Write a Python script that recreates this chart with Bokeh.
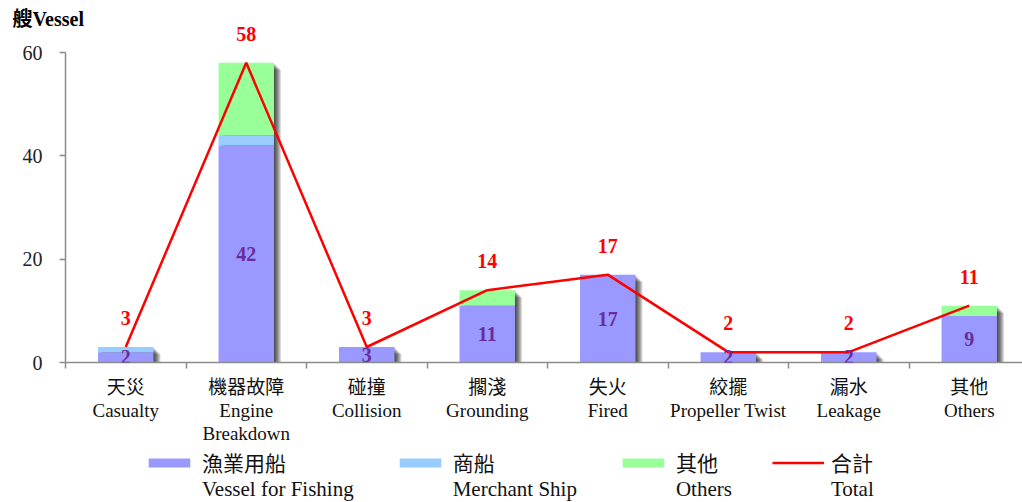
from bokeh.plotting import figure
from bokeh.layouts import column
from bokeh.models import (ColumnDataSource, Range1d, FixedTicker, LabelSet,
                          Legend, LegendItem)
from bokeh.embed import file_html
from bokeh.resources import INLINE

# Vessel accidents by cause
cat_zh = ["天災", "機器故障", "碰撞", "擱淺", "失火", "絞擺", "漏水", "其他"]
cat_en = ["Casualty", "Engine\nBreakdown", "Collision", "Grounding", "Fired",
          "Propeller Twist", "Leakage", "Others"]
fishing = [2, 42, 3, 11, 17, 2, 2, 9]
merchant = [1, 2, 0, 0, 0, 0, 0, 0]
others = [0, 14, 0, 3, 0, 0, 0, 2]
total = [3, 58, 3, 14, 17, 2, 2, 11]
y_ticks = [0, 20, 40, 60]
series_zh = ["漁業用船", "商船", "其他", "合計"]
series_en = ["Vessel for Fishing", "Merchant Ship", "Others", "Total"]

SERIF = "'Liberation Serif', 'Noto Sans CJK TC'"
C_FISH, C_MERCH, C_OTHER, C_TOTAL = "#9999FF", "#99CCFF", "#99FF99", "#FF0000"

W = 1022
LEFT, TOP, BOTTOM = 65, 22, 86
FRAME_W, FRAME_H = W - LEFT, 340
LEG_H = 502 - (TOP + FRAME_H + BOTTOM)
X0 = -0.5
X1 = X0 + FRAME_W / 120.5
Y1 = FRAME_H / (310 / 60)

xs = list(range(len(cat_zh)))
src = ColumnDataSource(dict(
    x=xs, fishing=fishing, merchant=merchant, others=others, total=total,
    fish_mid=[v / 2 for v in fishing],
    fish_txt=[str(v) for v in fishing],
    tot_txt=[str(v) for v in total],
))

p = figure(width=W, height=TOP + FRAME_H + BOTTOM,
           min_border_left=LEFT, min_border_right=0, min_border_top=TOP,
           min_border_bottom=BOTTOM,
           x_range=Range1d(X0, X1), y_range=Range1d(0, Y1),
           output_backend="svg", toolbar_location=None, tools="")
p.outline_line_color = None
p.xgrid.grid_line_color = None
p.ygrid.grid_line_color = None
p.background_fill_color = "white"

# unit title in the top-left corner
p.title.text = "艘Vessel"
p.title.align = "left"
p.title.offset = -53
p.title.standoff = -14
p.title.text_font = SERIF
p.title.text_font_style = "bold"
p.title.text_font_size = "20px"
p.title.text_color = "black"

# soft drop shadow to the lower right of each column
px_x = FRAME_W / (X1 - X0)
px_y = FRAME_H / Y1
for k in range(1, 8):
    p.vbar(x=[v + k / px_x for v in xs], top=[t - k / px_y for t in total],
           bottom=0, width=0.46, fill_color="black", fill_alpha=0.15, line_color=None)

bars = p.vbar_stack(["fishing", "merchant", "others"], x="x", width=0.46, source=src,
                    color=[C_FISH, C_MERCH, C_OTHER], line_color=None)
p.line("x", "total", source=src, line_color=C_TOTAL, line_width=2.5)

p.add_layout(LabelSet(x="x", y="fish_mid", text="fish_txt", source=src,
                      text_align="center", text_baseline="middle",
                      text_font=SERIF, text_font_style="bold", text_font_size="20px",
                      text_color="#6A2C9C"))
p.add_layout(LabelSet(x="x", y="total", text="tot_txt", source=src, y_offset=29,
                      text_align="center", text_baseline="middle",
                      text_font=SERIF, text_font_style="bold", text_font_size="20px",
                      text_color=C_TOTAL))

# y axis
ya = p.yaxis[0]
ya.ticker = FixedTicker(ticks=y_ticks, minor_ticks=[])
ya.bounds = (0, 60)
ya.axis_line_color = "#8C8C8C"
ya.axis_line_width = 1.5
ya.major_tick_line_color = "#8C8C8C"
ya.major_tick_line_width = 1.5
ya.major_tick_out = 6
ya.major_tick_in = 0
ya.major_label_standoff = 17
ya.major_label_text_font = SERIF
ya.major_label_text_font_size = "20px"
ya.major_label_text_color = "#222222"

# x axis: ticks between categories, two-line labels
xa = p.xaxis[0]
xa.ticker = FixedTicker(ticks=xs, minor_ticks=[v - 0.5 for v in range(len(xs) + 1)])
xa.major_label_overrides = {i: f"{z}\n{e}" for i, (z, e) in enumerate(zip(cat_zh, cat_en))}
xa.axis_line_color = "#8C8C8C"
xa.axis_line_width = 1.5
xa.major_tick_line_color = None
xa.major_tick_out = 0
xa.major_tick_in = 0
xa.minor_tick_line_color = "#8C8C8C"
xa.minor_tick_line_width = 1.5
xa.minor_tick_out = 6
xa.minor_tick_in = 0
xa.major_label_standoff = 8
xa.major_label_text_font = SERIF
xa.major_label_text_font_size = "19px"
xa.major_label_text_color = "#111111"
xa.major_label_text_line_height = 1.1

# legend strip under the chart (its frame lines up with the chart frame)
q = figure(width=W, height=LEG_H, x_range=Range1d(0, FRAME_W), y_range=Range1d(0, LEG_H),
           min_border=0, min_border_left=LEFT, x_axis_type=None, y_axis_type=None,
           output_backend="svg", toolbar_location=None, tools="")
q.outline_line_color = None
q.background_fill_color = "white"
nan = float("nan")
keys = [q.vbar(x=[nan], top=[nan], width=1, fill_color=c, line_color=None)
        for c in (C_FISH, C_MERCH, C_OTHER)]
keys.append(q.line(x=[nan], y=[nan], line_color=C_TOTAL, line_width=2.5))

# a blank first line keeps each key beside the Chinese caption
items = [LegendItem(label=f" \n{z}\n{e}", renderers=[r])
         for z, e, r in zip(series_zh, series_en, keys)]
legend = Legend(items=items, orientation="horizontal", location=(143 - LEFT, 0),
                glyph_width=52, glyph_height=11, label_standoff=7, spacing=40,
                padding=0, margin=0, border_line_color=None, background_fill_alpha=0,
                label_text_font=SERIF, label_text_font_size="21px",
                label_text_color="#111111", label_text_line_height=1.3)
q.add_layout(legend)

open("out.html", "w").write(file_html(column(p, q, spacing=0), INLINE))
